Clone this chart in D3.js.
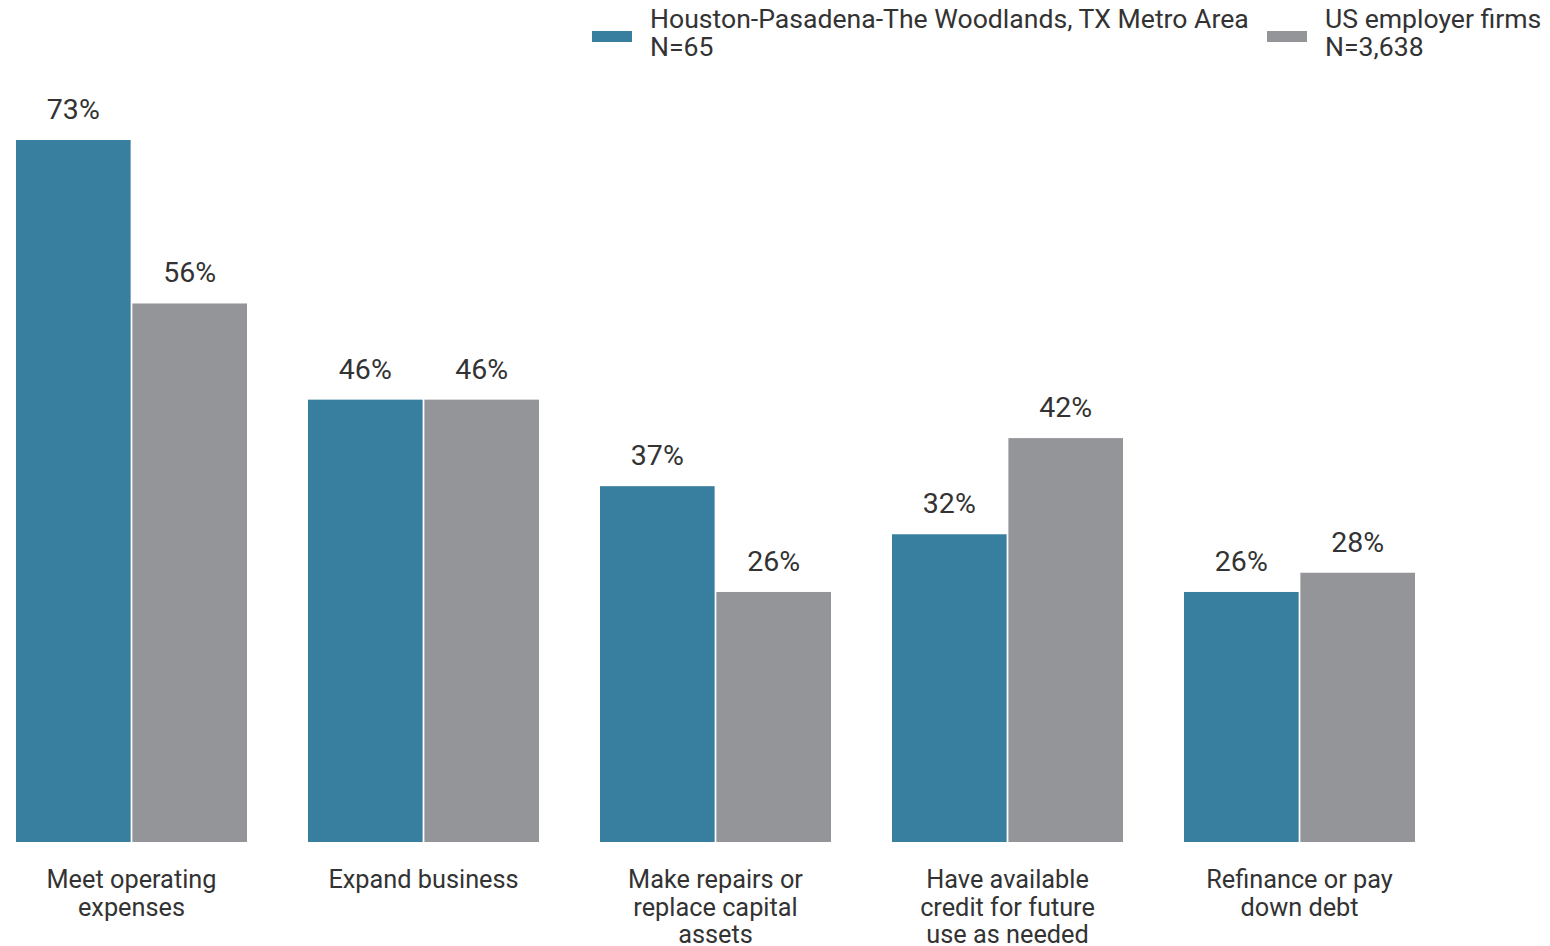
<!DOCTYPE html>
<html><head><meta charset="utf-8">
<script src="https://cdn.jsdelivr.net/npm/d3@7"></script>
<style>body{margin:0;background:#fff;} svg{display:block;font-family:Roboto,sans-serif;}</style>
</head><body>
<svg id="c" width="1550" height="946"></svg>
<script>
const categories = [
  ["Meet operating","expenses"],
  ["Expand business"],
  ["Make repairs or","replace capital","assets"],
  ["Have available","credit for future","use as needed"],
  ["Refinance or pay","down debt"]
];
const seriesNames = ["Houston-Pasadena-The Woodlands, TX Metro Area","US employer firms"];
const seriesN = ["N=65","N=3,638"];
const houston = [73,46,37,32,26];
const us = [56,46,26,42,28];
const colors = ["#387e9f","#949599"];

const svg = d3.select("#c");
const keys = categories.map((c,i)=>"c"+i);
const x0 = d3.scaleBand().domain(keys).range([16,1415]).paddingInner(61/292).paddingOuter(0);
const x1 = d3.scaleBand().domain([0,1]).range([0,x0.bandwidth()]).paddingInner(0.015);
const y = d3.scaleLinear().domain([0,73]).range([842,140]);
const data = keys.map((k,i)=>({k, vals:[houston[i],us[i]]}));

const g = svg.append("g");
const grp = g.selectAll("g.grp").data(data).join("g").attr("transform",d=>`translate(${x0(d.k)},0)`);
grp.selectAll("rect").data(d=>d.vals.map((v,s)=>({v,s}))).join("rect")
  .attr("x",d=>x1(d.s)).attr("width",x1.bandwidth())
  .attr("y",d=>y(d.v)).attr("height",d=>y(0)-y(d.v))
  .attr("fill",d=>colors[d.s]);
grp.selectAll("text.v").data(d=>d.vals.map((v,s)=>({v,s}))).join("text")
  .attr("class","v").attr("x",d=>x1(d.s)+x1.bandwidth()/2).attr("y",d=>y(d.v)-21)
  .attr("text-anchor","middle").attr("font-size",28.5).attr("fill","#333")
  .text(d=>d.v+"%");

// category labels
grp.append("text").attr("text-anchor","middle").attr("font-size",25.3).attr("fill","#333")
  .attr("transform",`translate(${x0.bandwidth()/2},888)`)
  .selectAll("tspan").data((d,i)=>categories[i]).join("tspan")
  .attr("x",0).attr("dy",(d,i)=>i===0?0:27.5).text(d=>d);

// legend
const legX = [592,1267];
seriesNames.forEach((n,i)=>{
  const lg = svg.append("g").attr("transform",`translate(${legX[i]},0)`);
  lg.append("rect").attr("x",0).attr("y",31).attr("width",40).attr("height",11).attr("fill",colors[i]);
  const t = lg.append("text").attr("font-size",26.6).attr("fill","#333");
  t.append("tspan").attr("x",58).attr("y",28).text(n);
  t.append("tspan").attr("x",58).attr("y",56).text(seriesN[i]);
});
</script>
</body></html>
